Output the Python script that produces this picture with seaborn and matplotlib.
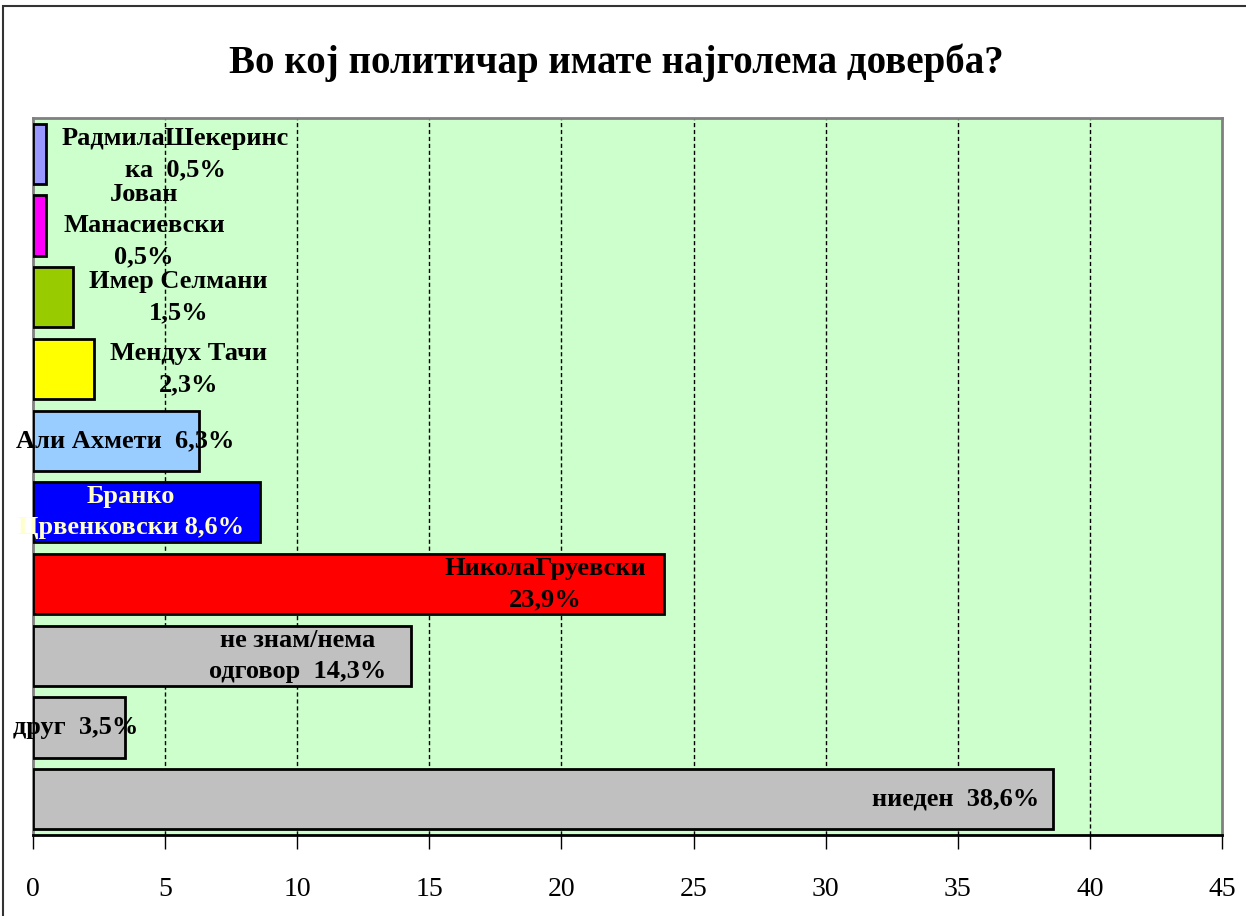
import matplotlib
matplotlib.use("Agg")
import matplotlib.pyplot as plt
import seaborn as sns
import pandas as pd
from matplotlib.patches import Rectangle

# ---- data ----
categories = ["Радмила Шекеринска", "Јован Манасиевски", "Имер Селмани", "Мендух Тачи",
              "Али Ахмети", "Бранко Црвенковски", "Никола Груевски",
              "не знам/нема одговор", "друг", "ниеден"]
values = [0.5, 0.5, 1.5, 2.3, 6.3, 8.6, 23.9, 14.3, 3.5, 38.6]
labels = ["РадмилаШекеринс\nка  0,5%", "Јован\nМанасиевски\n0,5%", "Имер Селмани\n1,5%",
          "Мендух Тачи\n2,3%", "Али Ахмети  6,3%", "Бранко\nЦрвенковски 8,6%",
          "НиколаГруевски\n23,9%", "не знам/нема\nодговор  14,3%", "друг  3,5%", "ниеден  38,6%"]
xticks = [0, 5, 10, 15, 20, 25, 30, 35, 40, 45]
title = "Во кој политичар имате најголема доверба?"

# ---- style ----
colors = ["#9999FF", "#FF00FF", "#99CC00", "#FFFF00", "#99CCFF", "#0000FF", "#FF0000",
          "#C0C0C0", "#C0C0C0", "#C0C0C0"]
label_x = [5.4, 4.2, 5.5, 5.9, 3.5, 3.7, 19.4, 10.0, 1.6, 34.9]
label_col = ["black"] * 10
label_col[5] = "#FFFFCC"

sns.set_theme(style="white")
plt.rcParams["font.family"] = ["Liberation Serif", "DejaVu Serif"]
plt.rcParams["text.color"] = "black"
plt.rcParams["xtick.color"] = "black"

fig = plt.figure(figsize=(12.46, 9.16), dpi=100)
ax = fig.add_axes([33 / 1246, 1 - 835 / 916, (1222 - 33) / 1246, (835 - 118) / 916])
ax.set_facecolor("#CCFFCC")

df = pd.DataFrame({"cat": categories, "val": values})
sns.barplot(data=df, x="val", y="cat", hue="cat", palette=colors, legend=False,
            orient="h", width=0.84, saturation=1, edgecolor="black", linewidth=2,
            ax=ax, zorder=3)

ax.set_xlim(0, 45)
ax.set_ylim(len(categories) - 0.5, -0.5)
ax.set_xticks(xticks)
ax.set_xticklabels([str(t) for t in xticks], fontsize=20, color="black")
ax.set_yticks([])
ax.set_xlabel("")
ax.set_ylabel("")
ax.tick_params(axis="x", direction="out", length=10, width=1, color="black", pad=20, bottom=True)

for x in xticks[1:-1]:
    ax.axvline(x, color="black", linestyle=(0, (3, 2)), linewidth=1, zorder=1)

for s in ["top", "right", "left"]:
    ax.spines[s].set_color("#808080")
    ax.spines[s].set_linewidth(2)
ax.spines["bottom"].set_color("black")
ax.spines["bottom"].set_linewidth(2)

for i, (lx, lab, c) in enumerate(zip(label_x, labels, label_col)):
    ax.text(lx, i, lab, ha="center", va="center", fontsize=19, fontweight="bold",
            color=c, linespacing=1.45, zorder=5)

fig.text(0.495, 1 - 63 / 916, title, ha="center", va="center", fontsize=28,
         fontweight="bold", color="black")

fig.patches.append(Rectangle((3 / 1246, -0.1), 1.2, 1 - 6 / 916 + 0.1, transform=fig.transFigure,
                             fill=False, edgecolor="#333333", linewidth=1.5))

fig.savefig("out.png", dpi=100)
